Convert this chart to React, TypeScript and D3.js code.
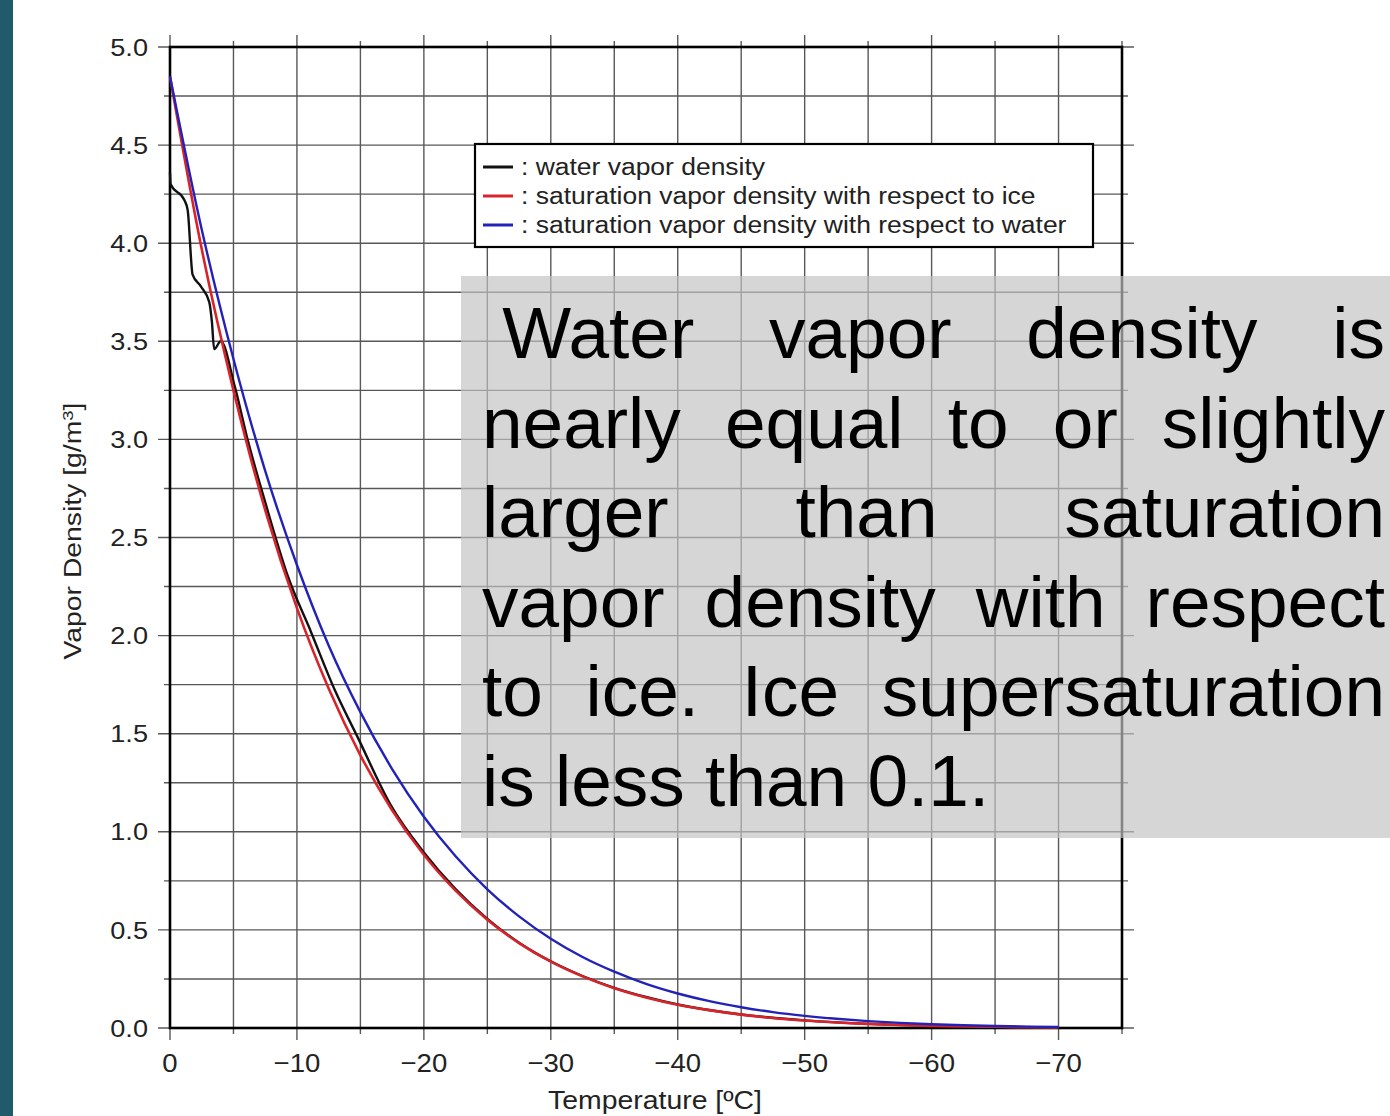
import React from "react";
import * as d3 from "d3";

// ---------- data ----------
const satTemps = [0, -2.5, -5, -7.5, -10, -12.5, -15, -17.5, -20, -22.5, -25, -27.5, -30, -32.5, -35, -37.5, -40, -42.5, -45, -47.5, -50, -52.5, -55, -57.5, -60, -62.5, -65, -67.5, -70];
const iceDensity = [4.85, 3.97, 3.25, 2.64, 2.14, 1.73, 1.39, 1.11, 0.883, 0.7, 0.552, 0.433, 0.338, 0.263, 0.203, 0.156, 0.119, 0.091, 0.068, 0.051, 0.038, 0.028, 0.021, 0.015, 0.011, 0.008, 0.006, 0.004, 0.003];
const waterDensity = [4.85, 4.07, 3.41, 2.84, 2.36, 1.95, 1.61, 1.32, 1.077, 0.875, 0.707, 0.569, 0.455, 0.362, 0.287, 0.225, 0.176, 0.137, 0.106, 0.081, 0.062, 0.047, 0.035, 0.026, 0.019, 0.014, 0.01, 0.007, 0.005];
const vaporTemps = [0, -0.05, -1.13, -1.39, -1.78, -2.43, -3.09, -3.3, -3.48, -4.0, -5.1, -6.15, -7.5, -9.3, -11.1, -13, -14.8, -17.4, -20, -22.5, -25, -27.5, -30, -32.5, -35, -37.5, -40, -45, -50, -55, -60, -65, -70];
const vaporDensity = [4.36, 4.3, 4.22, 4.17, 3.84, 3.78, 3.7, 3.6, 3.46, 3.5, 3.27, 2.99, 2.68, 2.3, 2.02, 1.72, 1.48, 1.135, 0.895, 0.708, 0.556, 0.435, 0.34, 0.265, 0.205, 0.158, 0.12, 0.069, 0.039, 0.021, 0.011, 0.006, 0.003];

const xTickValues = [0, -10, -20, -30, -40, -50, -60, -70];
const yTickValues = [0, 0.5, 1, 1.5, 2, 2.5, 3, 3.5, 4, 4.5, 5];
const legendLabels = [
  ": water vapor density",
  ": saturation vapor density with respect to ice",
  ": saturation vapor density with respect to water",
];
const legendColors = ["#111111", "#d8232a", "#2222b8"];
const noteLines = [
  "Water vapor density is",
  "nearly equal to or slightly",
  "larger than saturation",
  "vapor density with respect",
  "to ice. Ice supersaturation",
  "is less than 0.1.",
];

const FONT = "'Liberation Sans', Arial, Helvetica, sans-serif";

let measureCtx: CanvasRenderingContext2D | null = null;
function measure(s: string, size: number): number {
  if (!measureCtx) {
    const c = document.createElement("canvas");
    measureCtx = c.getContext("2d");
  }
  if (!measureCtx) return s.length * size * 0.5;
  measureCtx.font = `${size}px ${FONT}`;
  return measureCtx.measureText(s).width;
}

export default function App() {
  const x = d3.scaleLinear().domain([0, -75]).range([170, 1122]);
  const y = d3.scaleLinear().domain([0, 5]).range([1028, 47]);

  const line = d3
    .line<[number, number]>()
    .x((d) => x(d[0]))
    .y((d) => y(d[1]))
    .curve(d3.curveMonotoneX);

  const icePath = line(satTemps.map((t, i) => [t, iceDensity[i]]));
  const waterPath = line(satTemps.map((t, i) => [t, waterDensity[i]]));
  const vaporPath = line(vaporTemps.map((t, i) => [t, vaporDensity[i]]));

  const xGrid = d3.range(0, -75.01, -5);
  const yGrid = d3.range(0, 5.001, 0.25);
  const gridColor = "#585858";

  // note box text layout (justified)
  const noteSize = 73;
  const boxLeft = 482;
  const boxRight = 1385;
  const baseline0 = 358;
  const lineGap = 89.6;
  const spaceW = measure(" ", noteSize);

  const noteWords: { w: string; x: number; y: number }[] = [];
  noteLines.forEach((ln, li) => {
    const yy = baseline0 + li * lineGap;
    const words = ln.split(" ");
    const start = li === 0 ? boxLeft + spaceW : boxLeft;
    if (li === noteLines.length - 1) {
      let cx = start;
      words.forEach((w) => {
        noteWords.push({ w, x: cx, y: yy });
        cx += measure(w, noteSize) + spaceW;
      });
      return;
    }
    const widths = words.map((w) => measure(w, noteSize));
    const total = widths.reduce((a, b) => a + b, 0);
    const gap = words.length > 1 ? (boxRight - start - total) / (words.length - 1) : 0;
    let cx = start;
    words.forEach((w, i) => {
      noteWords.push({ w, x: cx, y: yy });
      cx += widths[i] + gap;
    });
  });

  const yLabSize = 24;
  const xLabSize = 26;
  const legSize = 23;

  return (
    <svg
      width={1390}
      height={1116}
      style={{ position: "absolute", left: 0, top: 0, display: "block" }}
      fontFamily={FONT}
    >
      <rect x={0} y={0} width={1390} height={1116} fill="#ffffff" />
      <rect x={0} y={0} width={13} height={1116} fill="#215a6a" />

      {/* vertical grid */}
      {xGrid.map((t) => {
        const major = Math.abs(t) % 10 === 0;
        const ext = major ? 12 : 6;
        return (
          <line
            key={`vx${t}`}
            x1={x(t)}
            x2={x(t)}
            y1={y(5) - ext}
            y2={y(0) + ext}
            stroke={gridColor}
            strokeWidth={1.4}
          />
        );
      })}
      {/* horizontal grid */}
      {yGrid.map((v) => {
        const major = Math.abs((v * 2) % 1) < 1e-6;
        const ext = major ? 12 : 6;
        return (
          <line
            key={`hy${v}`}
            x1={x(0) - ext}
            x2={x(-75) + ext}
            y1={y(v)}
            y2={y(v)}
            stroke={gridColor}
            strokeWidth={1.4}
          />
        );
      })}

      {/* frame */}
      <rect
        x={x(0)}
        y={y(5)}
        width={x(-75) - x(0)}
        height={y(0) - y(5)}
        fill="none"
        stroke="#000"
        strokeWidth={2.6}
      />

      {/* tick labels */}
      {yTickValues.map((v) => {
        const s = v.toFixed(1);
        return (
          <text
            key={`yl${v}`}
            x={148}
            y={y(v)}
            dy="0.36em"
            textAnchor="end"
            fontSize={yLabSize}
            fill="#222"
            textLength={measure(s, yLabSize) * 1.13}
            lengthAdjust="spacingAndGlyphs"
          >
            {s}
          </text>
        );
      })}
      {xTickValues.map((t) => {
        const s = t === 0 ? "0" : `\u2212${Math.abs(t)}`;
        return (
          <text
            key={`xl${t}`}
            x={x(t)}
            y={1072}
            textAnchor="middle"
            fontSize={xLabSize}
            fill="#222"
            textLength={measure(s, xLabSize) * 1.06}
            lengthAdjust="spacingAndGlyphs"
          >
            {s}
          </text>
        );
      })}

      {/* axis titles */}
      <text
        transform={`translate(81,531) rotate(-90)`}
        textAnchor="middle"
        fontSize={23}
        fill="#222"
        textLength={257}
        lengthAdjust="spacingAndGlyphs"
      >
        Vapor Density [g/m<tspan dy={-8} fontSize={15}>3</tspan>
        <tspan dy={8}>]</tspan>
      </text>
      <text
        x={655}
        y={1109}
        textAnchor="middle"
        fontSize={25}
        fill="#222"
        textLength={214}
        lengthAdjust="spacingAndGlyphs"
      >
        Temperature [ºC]
      </text>

      {/* curves */}
      <path d={vaporPath ?? ""} fill="none" stroke={legendColors[0]} strokeWidth={2.4} strokeLinejoin="round" />
      <path d={icePath ?? ""} fill="none" stroke={legendColors[1]} strokeWidth={2.6} strokeLinejoin="round" />
      <path d={waterPath ?? ""} fill="none" stroke={legendColors[2]} strokeWidth={2.4} strokeLinejoin="round" />

      {/* legend */}
      <rect x={475} y={144} width={618} height={103} fill="#fff" stroke="#000" strokeWidth={2.2} />
      {legendLabels.map((lab, i) => {
        const cy = 167 + i * 29;
        return (
          <g key={lab}>
            <line x1={483} x2={513} y1={cy} y2={cy} stroke={legendColors[i]} strokeWidth={3} />
            <text
              x={521}
              y={cy + 8}
              fontSize={legSize}
              fill="#222"
              textLength={measure(lab, legSize) * 1.15}
              lengthAdjust="spacingAndGlyphs"
            >
              {lab}
            </text>
          </g>
        );
      })}

      {/* note box */}
      <rect x={461} y={276} width={929} height={562} fill="#c2c2c2" fillOpacity={0.68} />
      {noteWords.map((nw, i) => (
        <text key={`nw${i}`} x={nw.x} y={nw.y} fontSize={noteSize} fill="#000">
          {nw.w}
        </text>
      ))}
    </svg>
  );
}
